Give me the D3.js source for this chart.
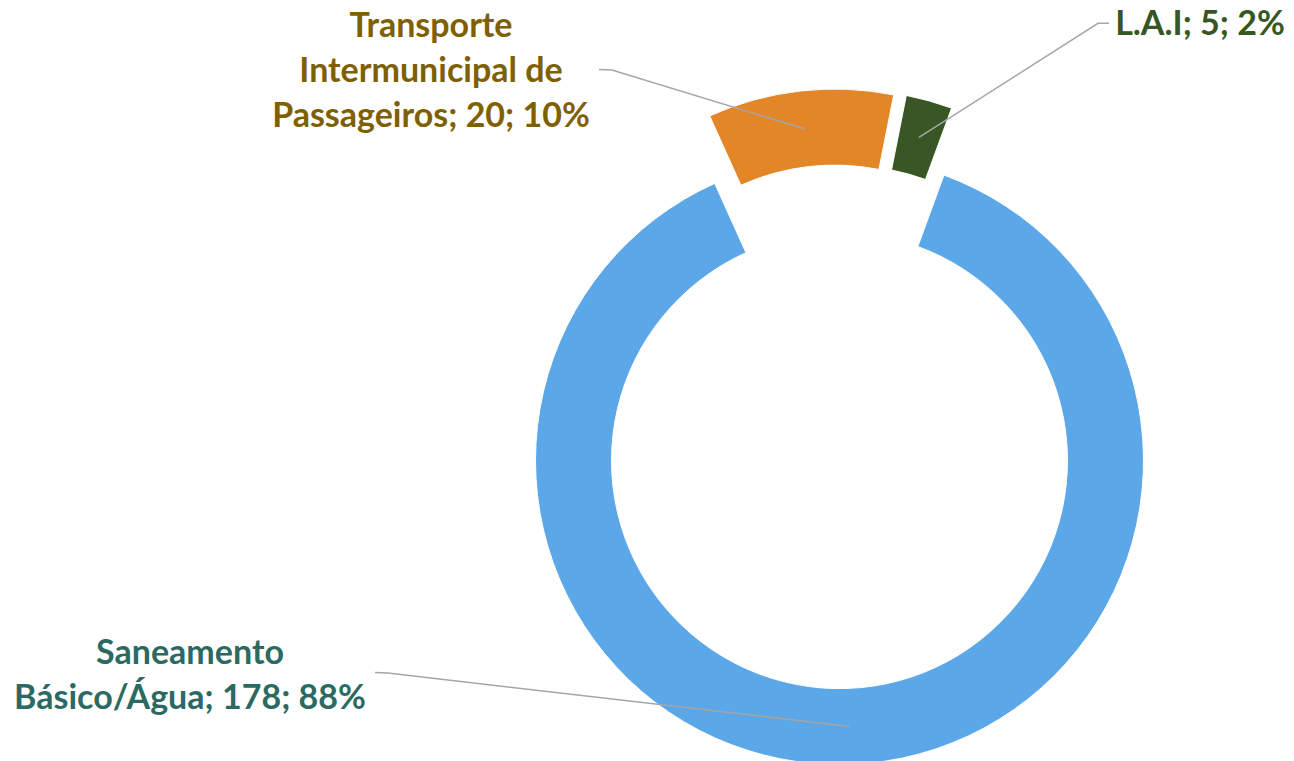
<!DOCTYPE html>
<html lang="pt">
<head>
    <meta charset="UTF-8">
    <title>Donut</title>
    <script src="https://cdn.jsdelivr.net/npm/d3@7"></script>
    <style>
        html, body {
            margin: 0;
            padding: 0;
            width: 100%;
            height: 100%;
            overflow: hidden;
            background: #fff;
        }
        .label {
            font-family: Lato, "Open Sans", sans-serif;
            font-weight: bold;
            font-size: 34px;
        }
        .leader {
            fill: none;
            stroke: #a6a6a6;
            stroke-width: 1.5px;
        }
    </style>
</head>
<body>
<script>
    // dados
    let categories = ['Saneamento Básico/Água', 'Transporte Intermunicipal de Passageiros', 'L.A.I'];
    let values = [178, 20, 5];
    let colors = ['#5ca7e8', '#e38628', '#385724'];
    let labelColors = ['#2b6a63', '#7f6000', '#375623'];

    let width = 1294;
    let height = 761;
    let cx = 839.5, cy = 460.6;
    let outerR = 304, innerR = 228;

    // deslocamento das fatias destacadas
    let explode = [[0, 0], [-5, -67.5], [7.6, -67]];
    // posição dos rótulos: x centro, baseline da 1a linha, largura máx, cotovelo da linha guia
    let labelPos = [
        {x: 190, y: 664, w: 370, elbow: [[375, 672.5], [388, 673]]},
        {x: 431, y: 36.7, w: 330, elbow: [[599, 69.5], [612, 70]]},
        {x: 1200, y: 35, w: 400, elbow: [[1109, 23.3], [1098, 23.3]]}
    ];
    let lineH = 45;

    let svg = d3.select('body').append('svg')
        .attr('width', width)
        .attr('height', height);

    let total = d3.sum(values);
    let start = 20.1 * Math.PI / 180;

    let pie = d3.pie()
        .sort(null)
        .value(d => d)
        .startAngle(start)
        .endAngle(start + 2 * Math.PI);

    let arc = d3.arc()
        .innerRadius(innerR)
        .outerRadius(outerR);

    let arcs = pie(values);

    let g = svg.append('g')
        .attr('transform', `translate(${cx},${cy})`);

    g.selectAll('.slice')
        .data(arcs).enter()
        .append('path')
        .classed('slice', true)
        .attr('transform', (d, i) => `translate(${explode[i][0]},${explode[i][1]})`)
        .attr('d', arc)
        .attr('fill', (d, i) => colors[i])
        .attr('stroke', '#fff')
        .attr('stroke-width', 1);

    // linhas guia
    let line = d3.line();
    svg.selectAll('.leader')
        .data(arcs).enter()
        .append('path')
        .classed('leader', true)
        .attr('d', (d, i) => {
            let c = arc.centroid(d);
            let p = [cx + c[0] + explode[i][0], cy + c[1] + explode[i][1]];
            let e = labelPos[i].elbow;
            return line([e[0], e[1], p]);
        });

    // rótulos
    arcs.forEach((d, i) => {
        let pct = Math.round(values[i] / total * 100);
        let txt = `${categories[i]}; ${values[i]}; ${pct}%`;
        let pos = labelPos[i];
        let text = svg.append('text')
            .classed('label', true)
            .attr('text-anchor', 'middle')
            .attr('fill', labelColors[i]);

        // quebra de linha simples por largura
        let words = txt.split(' ');
        let lines = [];
        let cur = '';
        let probe = text.append('tspan');
        words.forEach(w => {
            let test = cur ? cur + ' ' + w : w;
            probe.text(test);
            if (probe.node().getComputedTextLength() > pos.w && cur) {
                lines.push(cur);
                cur = w;
            } else {
                cur = test;
            }
        });
        lines.push(cur);
        probe.remove();

        lines.forEach((l, k) => {
            text.append('tspan')
                .attr('x', pos.x)
                .attr('y', pos.y + k * lineH)
                .text(l);
        });
    });
</script>
</body>
</html>
